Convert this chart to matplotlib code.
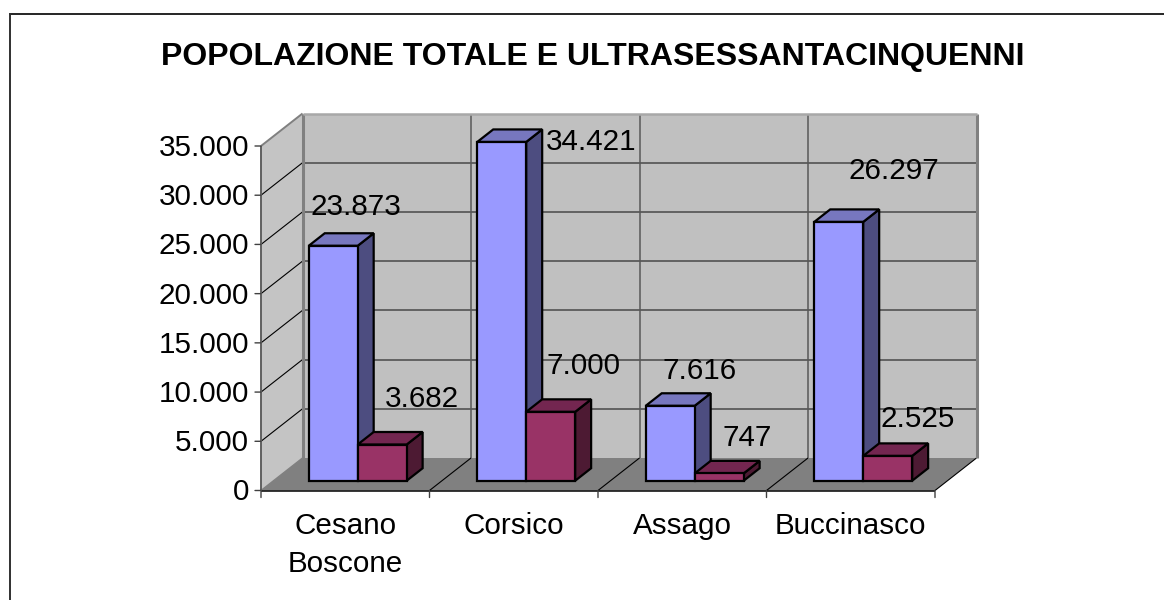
import matplotlib
matplotlib.use("Agg")
import matplotlib.pyplot as plt
from matplotlib.lines import Line2D
from matplotlib.patches import Polygon

plt.rcParams['font.family'] = ['Liberation Sans', 'DejaVu Sans']

title = "POPOLAZIONE TOTALE E ULTRASESSANTACINQUENNI"
categories = ["Cesano\nBoscone", "Corsico", "Assago", "Buccinasco"]
totale = [23873, 34421, 7616, 26297]
over65 = [3682, 7000, 747, 2525]
y_ticks = [0, 5000, 10000, 15000, 20000, 25000, 30000, 35000]

# label offsets from the bar's front-top centre, in pixels
offs_totale = [(23, 39), (89, 0), (29, 35), (55, 51)]
offs_over65 = [(40, 46), (33, 46), (28, 35), (30, 37)]

W, H, DPI = 1164, 600, 100
FS = 21.3
LEFT, RIGHT, BASE, TOP = 261, 935, 490.5, 146

fig = plt.figure(figsize=(W / DPI, H / DPI), dpi=DPI, facecolor='white')
ax = fig.add_axes([LEFT / W, (H - BASE) / H, (RIGHT - LEFT) / W, (BASE - TOP) / H])
ax.set_xlim(0, len(categories))
ax.set_ylim(0, y_ticks[-1])
ax.axis('off')

# depth of the 3D box, in data units
DX = 41.5 / 168.5
DY = 32.5 / (BASE - TOP) * y_ticks[-1]


def pr(x, y, d=0.0):
    return (x + DX * d, y + DY * d)


def poly(pts, face, edge='none', lw=0.0, z=1):
    ax.add_patch(Polygon(pts, closed=True, facecolor=face, edgecolor=edge,
                         linewidth=lw, zorder=z, clip_on=False, joinstyle='miter'))


def seg(a, b, color, lw, z=2):
    ax.add_line(Line2D([a[0], b[0]], [a[1], b[1]], color=color, lw=lw, zorder=z,
                       clip_on=False, solid_capstyle='butt'))


n = len(categories)
ymax = y_ticks[-1]

# walls and floor
poly([pr(0, 0, 1), pr(n, 0, 1), pr(n, ymax, 1), pr(0, ymax, 1)], '#C0C0C0')
poly([pr(0, 0), pr(0, 0, 1), pr(0, ymax, 1), pr(0, ymax)], '#C4C4C4')
poly([pr(0, 0), pr(n, 0), pr(n, 0, 1), pr(0, 0, 1)], '#808080')

# gridlines
for v in y_ticks[1:-1]:
    seg(pr(0, v, 1), pr(n, v, 1), '#484848', 1.1)
for v in y_ticks[1:]:
    seg(pr(0, v), pr(0, v, 1), '#000000' if v < ymax else '#808080', 0.8 if v < ymax else 1.4)
for i in range(1, n):
    seg(pr(i, 0, 1), pr(i, ymax, 1), '#585858', 1.1)
for i in range(1, n):
    seg(pr(i, 0), pr(i, 0, 1), '#000000', 0.8)
seg(pr(n, 0), pr(n, 0, 1), '#000000', 0.8)

# wall edges
seg(pr(0, 0, 1), pr(0, ymax, 1), '#808080', 2.2)
seg(pr(n, 0, 1), pr(n, ymax, 1), '#808080', 2.2)
seg(pr(0, ymax, 1), pr(n, ymax, 1), '#A8A8A8', 1.8)
seg(pr(0, 0), pr(0, 0, 1), '#808080', 1.0)

# axes and ticks
seg(pr(0, 0), pr(n, 0), '#000000', 1.1, 3)
seg(pr(0, 0), pr(0, ymax), '#606060', 1.4, 3)
for v in y_ticks:
    ax.annotate('', xy=(0, v), xytext=(-6, 0), textcoords='offset pixels',
                arrowprops=dict(arrowstyle='-', color='#404040', lw=1.0,
                                shrinkA=0, shrinkB=0))
    ax.annotate(f"{v:,}".replace(',', '.'), xy=(0, v), xytext=(-12, -2),
                textcoords='offset pixels', ha='right', va='center',
                fontsize=FS, color='black', annotation_clip=False)
for i in range(n + 1):
    ax.annotate('', xy=(i, 0), xytext=(0, -7), textcoords='offset pixels',
                arrowprops=dict(arrowstyle='-', color='#404040', lw=1.0,
                                shrinkA=0, shrinkB=0))

# bars
GAP = 0.2095
BW = (1 - 2 * GAP) / 2
D0, D1 = 0.30, 0.685
EDGE = 1.6


def bar3d(x, v, front, side, top, z):
    a, b = x, x + BW
    poly([pr(b, 0, D0), pr(b, 0, D1), pr(b, v, D1), pr(b, v, D0)], side, 'black', EDGE, z)
    poly([pr(a, v, D0), pr(b, v, D0), pr(b, v, D1), pr(a, v, D1)], top, 'black', EDGE, z)
    poly([pr(a, 0, D0), pr(b, 0, D0), pr(b, v, D0), pr(a, v, D0)], front, 'black', EDGE, z)


for i in range(n):
    x0 = i + GAP
    x1 = x0 + BW
    bar3d(x0, totale[i], '#9999FF', '#4D4D80', '#7777BF', 5 + i * 2)
    bar3d(x1, over65[i], '#993366', '#4D1A33', '#732650', 6 + i * 2)

# value labels
for i in range(n):
    for val, x, off in ((totale[i], i + GAP, offs_totale[i]),
                        (over65[i], i + GAP + BW, offs_over65[i])):
        ax.annotate(f"{val:,}".replace(',', '.'), xy=pr(x + BW / 2, val, D0),
                    xytext=off, textcoords='offset pixels', ha='center', va='center',
                    fontsize=FS, color='black', zorder=30, annotation_clip=False)

# category labels
for i, c in enumerate(categories):
    ax.annotate(c, xy=(i + 0.5, 0), xytext=(0, -21), textcoords='offset pixels',
                ha='center', va='top', fontsize=FS, color='black',
                linespacing=1.5, annotation_clip=False)

# title
fig.text(593 / W, 1 - 57 / H, title, ha='center', va='center', fontsize=23,
         fontweight='bold', color='black')

# chart frame
fig.add_artist(Line2D([9.5 / W, 1], [1 - 14 / H, 1 - 14 / H], color='black', lw=1.2))
fig.add_artist(Line2D([10 / W, 10 / W], [0, 1 - 13.5 / H], color='#303030', lw=1.4))

fig.savefig('out.png', dpi=DPI, facecolor='white')
